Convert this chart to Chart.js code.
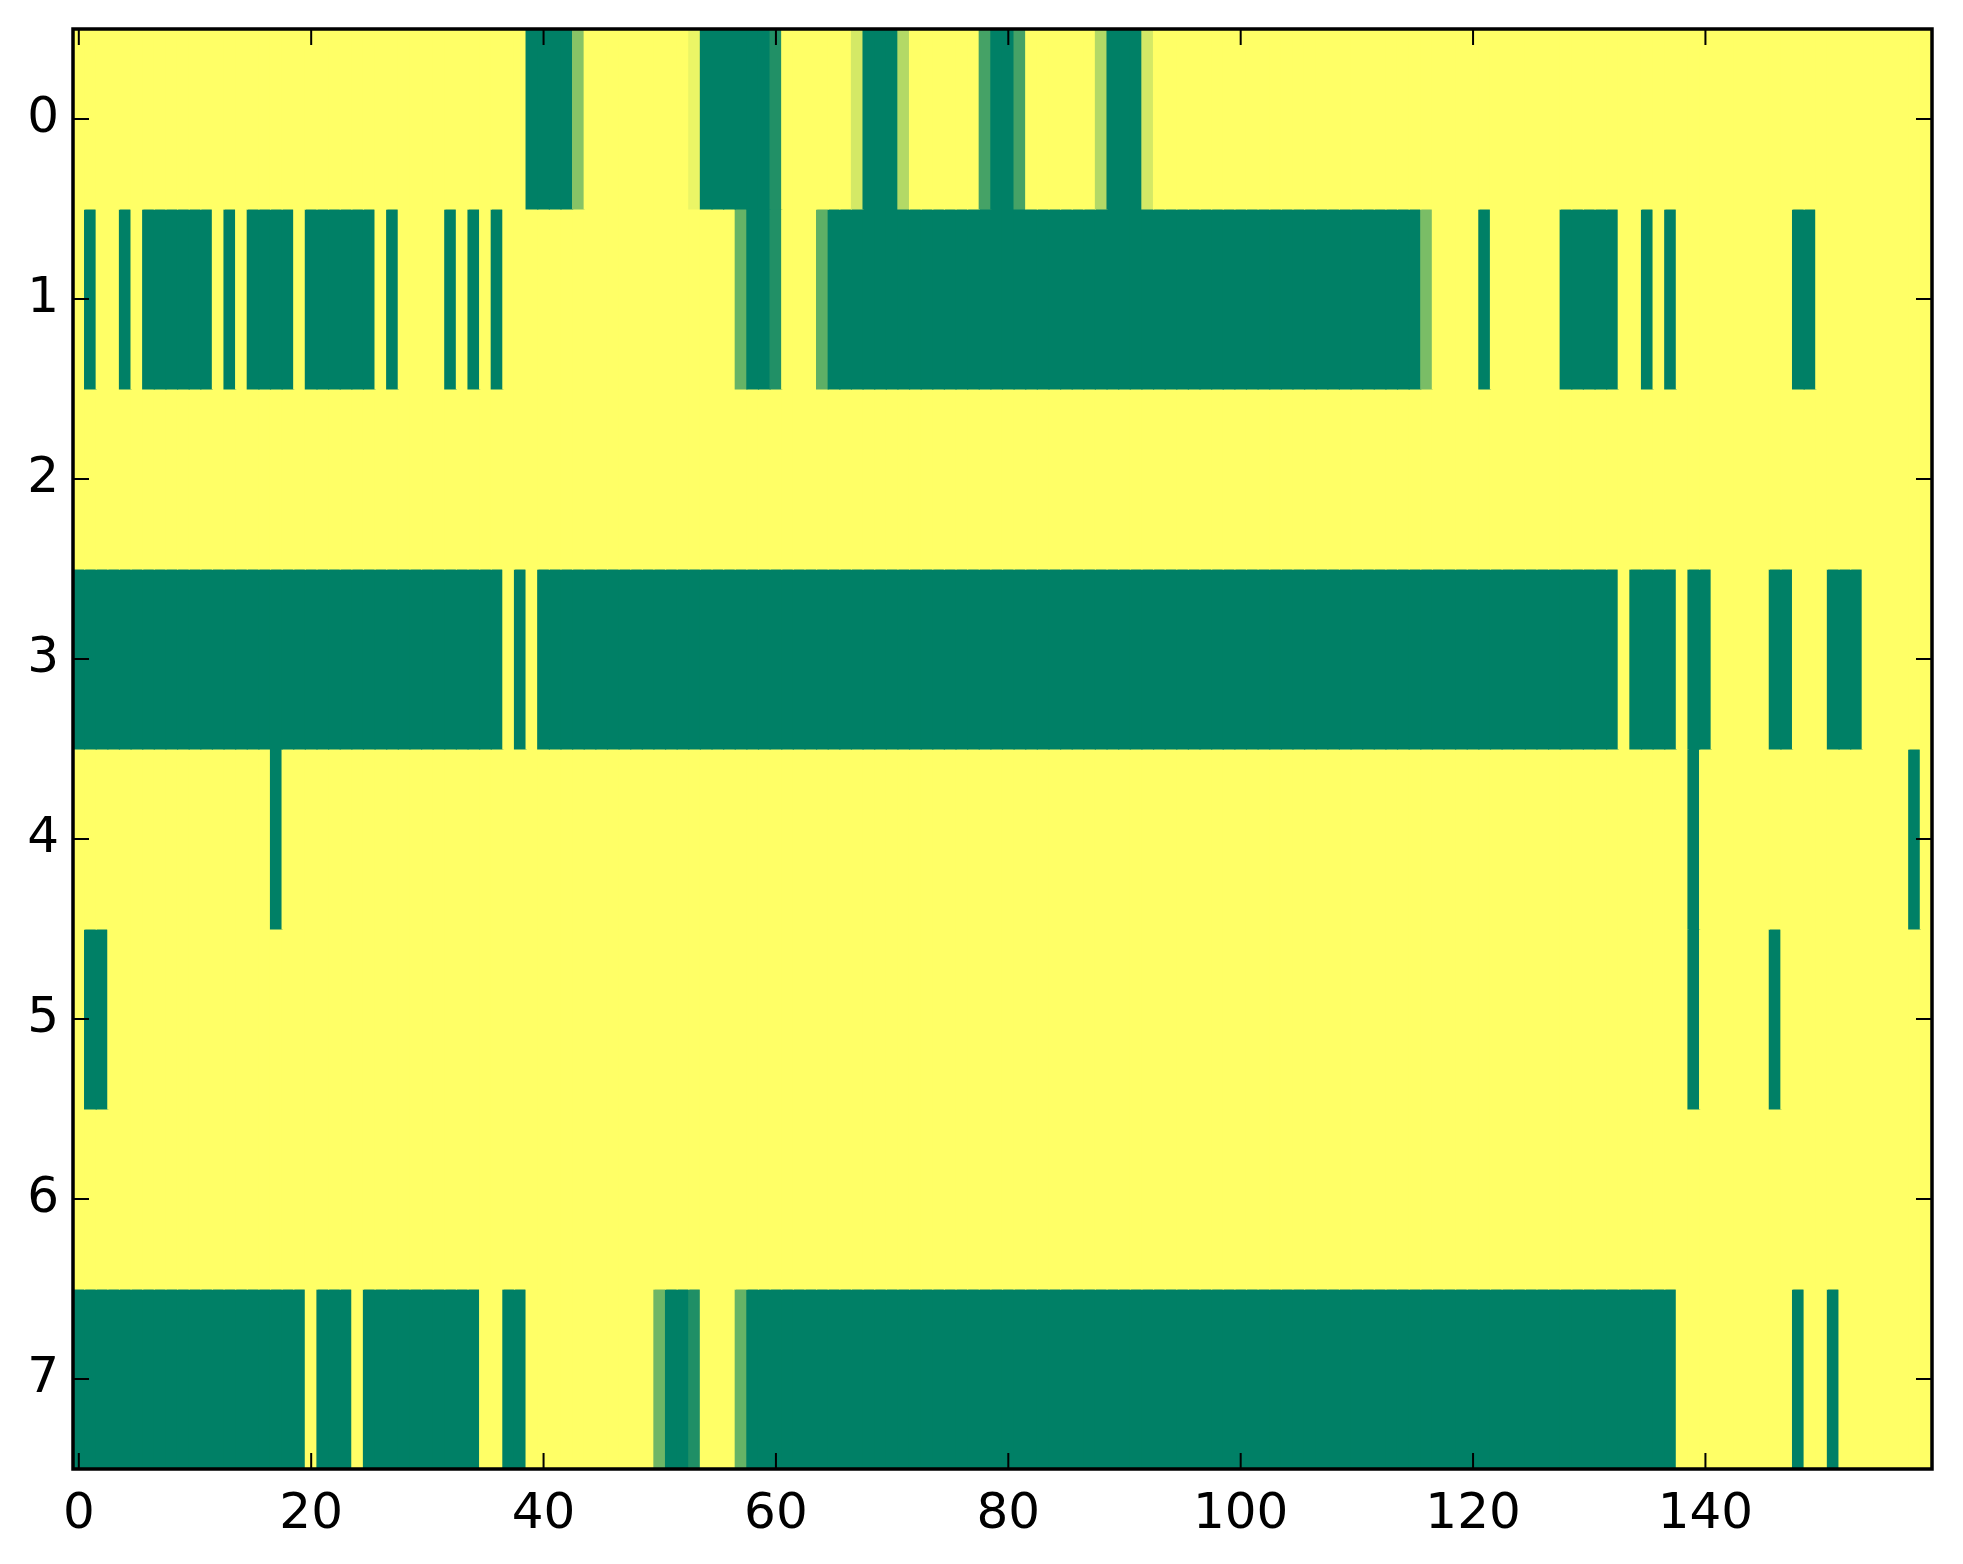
<!DOCTYPE html>
<html>
<head>
<meta charset="utf-8">
<script src="https://cdn.jsdelivr.net/npm/chart.js@4.4.1/dist/chart.umd.min.js"></script>
<style>
  html, body { margin: 0; padding: 0; background: #fff; }
  #wrap { width: 1963px; height: 1564px; position: relative; }
</style>
</head>
<body>
<div id="wrap"><canvas id="chart"></canvas></div>
<script>
// cell values, one array per row (0 = dark green, 1 = yellow, summer colormap)
const row0 = [
  1,1,1,1,1,1,1,1,1,1,1,1,1,1,1,1,1,1,1,1,
  1,1,1,1,1,1,1,1,1,1,1,1,1,1,1,1,1,1,1,0,
  0,0,0,0.53,1,1,1,1,1,1,1,1,1,0.92,0,0,0,0,0,0,
  0.13,1,1,1,1,1,1,0.83,0,0,0,0.7,1,1,1,1,1,1,0.27,0,
  0,0.27,1,1,1,1,1,1,0.7,0,0,0,0.83,1,1,1,1,1,1,1,
  1,1,1,1,1,1,1,1,1,1,1,1,1,1,1,1,1,1,1,1,
  1,1,1,1,1,1,1,1,1,1,1,1,1,1,1,1,1,1,1,1,
  1,1,1,1,1,1,1,1,1,1,1,1,1,1,1,1,1,1,1,1
];
const row1 = [
  1,0,1,1,0,1,0,0,0,0,0,0,1,0,1,0,0,0,0,1,
  0,0,0,0,0,0,1,0,1,1,1,1,0,1,0,1,0,1,1,1,
  1,1,1,1,1,1,1,1,1,1,1,1,1,1,1,1,1,0.4,0,0,
  0.13,1,1,1,0.37,0,0,0,0,0,0,0,0,0,0,0,0,0,0,0,
  0,0,0,0,0,0,0,0,0,0,0,0,0,0,0,0,0,0,0,0,
  0,0,0,0,0,0,0,0,0,0,0,0,0,0,0,0,0.48,1,1,1,
  1,0,1,1,1,1,1,1,0,0,0,0,0,1,1,0,1,0,1,1,
  1,1,1,1,1,1,1,1,0,0,1,1,1,1,1,1,1,1,1,1
];
const row2 = [
  1,1,1,1,1,1,1,1,1,1,1,1,1,1,1,1,1,1,1,1,
  1,1,1,1,1,1,1,1,1,1,1,1,1,1,1,1,1,1,1,1,
  1,1,1,1,1,1,1,1,1,1,1,1,1,1,1,1,1,1,1,1,
  1,1,1,1,1,1,1,1,1,1,1,1,1,1,1,1,1,1,1,1,
  1,1,1,1,1,1,1,1,1,1,1,1,1,1,1,1,1,1,1,1,
  1,1,1,1,1,1,1,1,1,1,1,1,1,1,1,1,1,1,1,1,
  1,1,1,1,1,1,1,1,1,1,1,1,1,1,1,1,1,1,1,1,
  1,1,1,1,1,1,1,1,1,1,1,1,1,1,1,1,1,1,1,1
];
const row3 = [
  0,0,0,0,0,0,0,0,0,0,0,0,0,0,0,0,0,0,0,0,
  0,0,0,0,0,0,0,0,0,0,0,0,0,0,0,0,0,1,0,1,
  0,0,0,0,0,0,0,0,0,0,0,0,0,0,0,0,0,0,0,0,
  0,0,0,0,0,0,0,0,0,0,0,0,0,0,0,0,0,0,0,0,
  0,0,0,0,0,0,0,0,0,0,0,0,0,0,0,0,0,0,0,0,
  0,0,0,0,0,0,0,0,0,0,0,0,0,0,0,0,0,0,0,0,
  0,0,0,0,0,0,0,0,0,0,0,0,0,1,0,0,0,0,1,0,
  0,1,1,1,1,1,0,0,1,1,1,0,0,0,1,1,1,1,1,1
];
const row4 = [
  1,1,1,1,1,1,1,1,1,1,1,1,1,1,1,1,1,0,1,1,
  1,1,1,1,1,1,1,1,1,1,1,1,1,1,1,1,1,1,1,1,
  1,1,1,1,1,1,1,1,1,1,1,1,1,1,1,1,1,1,1,1,
  1,1,1,1,1,1,1,1,1,1,1,1,1,1,1,1,1,1,1,1,
  1,1,1,1,1,1,1,1,1,1,1,1,1,1,1,1,1,1,1,1,
  1,1,1,1,1,1,1,1,1,1,1,1,1,1,1,1,1,1,1,1,
  1,1,1,1,1,1,1,1,1,1,1,1,1,1,1,1,1,1,1,0,
  1,1,1,1,1,1,1,1,1,1,1,1,1,1,1,1,1,1,0,1
];
const row5 = [
  1,0,0,1,1,1,1,1,1,1,1,1,1,1,1,1,1,1,1,1,
  1,1,1,1,1,1,1,1,1,1,1,1,1,1,1,1,1,1,1,1,
  1,1,1,1,1,1,1,1,1,1,1,1,1,1,1,1,1,1,1,1,
  1,1,1,1,1,1,1,1,1,1,1,1,1,1,1,1,1,1,1,1,
  1,1,1,1,1,1,1,1,1,1,1,1,1,1,1,1,1,1,1,1,
  1,1,1,1,1,1,1,1,1,1,1,1,1,1,1,1,1,1,1,1,
  1,1,1,1,1,1,1,1,1,1,1,1,1,1,1,1,1,1,1,0,
  1,1,1,1,1,1,0,1,1,1,1,1,1,1,1,1,1,1,1,1
];
const row6 = [
  1,1,1,1,1,1,1,1,1,1,1,1,1,1,1,1,1,1,1,1,
  1,1,1,1,1,1,1,1,1,1,1,1,1,1,1,1,1,1,1,1,
  1,1,1,1,1,1,1,1,1,1,1,1,1,1,1,1,1,1,1,1,
  1,1,1,1,1,1,1,1,1,1,1,1,1,1,1,1,1,1,1,1,
  1,1,1,1,1,1,1,1,1,1,1,1,1,1,1,1,1,1,1,1,
  1,1,1,1,1,1,1,1,1,1,1,1,1,1,1,1,1,1,1,1,
  1,1,1,1,1,1,1,1,1,1,1,1,1,1,1,1,1,1,1,1,
  1,1,1,1,1,1,1,1,1,1,1,1,1,1,1,1,1,1,1,1
];
const row7 = [
  0,0,0,0,0,0,0,0,0,0,0,0,0,0,0,0,0,0,0,0,
  1,0,0,0,1,0,0,0,0,0,0,0,0,0,0,1,1,0,0,1,
  1,1,1,1,1,1,1,1,1,1,0.43,0,0,0.12,1,1,1,0.4,0,0,
  0,0,0,0,0,0,0,0,0,0,0,0,0,0,0,0,0,0,0,0,
  0,0,0,0,0,0,0,0,0,0,0,0,0,0,0,0,0,0,0,0,
  0,0,0,0,0,0,0,0,0,0,0,0,0,0,0,0,0,0,0,0,
  0,0,0,0,0,0,0,0,0,0,0,0,0,0,0,0,0,0,1,1,
  1,1,1,1,1,1,1,1,0,1,1,0,1,1,1,1,1,1,1,1
];

const rows = [row0, row1, row2, row3, row4, row5, row6, row7];
const columns = row0.map((v, i) => String(i));
const xTicks = [0, 20, 40, 60, 80, 100, 120, 140];
const yTicks = [0, 1, 2, 3, 4, 5, 6, 7];

// matplotlib "summer" colormap
function summer(v) {
    const r = Math.round(255 * v);
    const g = Math.round(255 * (0.5 + 0.5 * v));
    const b = Math.round(255 * 0.4);
    return 'rgb(' + r + ',' + g + ',' + b + ')';
}

// frame and inward ticks on all four sides, like matplotlib classic
const frameTicks = {
    id: 'frameTicks',
    afterDraw(chart) {
        const {ctx, chartArea: a, scales} = chart;
        const len = 16;
        ctx.save();
        ctx.strokeStyle = '#000';
        ctx.lineWidth = 2;
        ctx.beginPath();
        xTicks.forEach(v => {
            const px = scales.x.getPixelForValue(v);
            ctx.moveTo(px, a.bottom); ctx.lineTo(px, a.bottom - len);
            ctx.moveTo(px, a.top); ctx.lineTo(px, a.top + len);
        });
        yTicks.forEach(v => {
            const py = scales.y.getPixelForValue(v);
            ctx.moveTo(a.left, py); ctx.lineTo(a.left + len, py);
            ctx.moveTo(a.right, py); ctx.lineTo(a.right - len, py);
        });
        ctx.stroke();
        ctx.lineWidth = 3.5;
        ctx.strokeRect(a.left, a.top, a.right - a.left, a.bottom - a.top);
        ctx.restore();
    }
};

const datasets = rows.map((vals, r) => ({
    label: 'row ' + r,
    data: vals.map(() => [r - 0.5, r + 0.5]),
    backgroundColor: vals.map(summer),
    borderWidth: 0,
    inflateAmount: 0.6,
    grouped: false,
    barPercentage: 1,
    categoryPercentage: 1,
}));

const font = { family: "'DejaVu Sans', sans-serif", size: 50 };

let ctx = document.getElementById('chart').getContext('2d');

let chart = new Chart(ctx, {
    type: 'bar',
    data: { labels: columns, datasets: datasets },
    options: {
        responsive: true,
        maintainAspectRatio: false,
        animation: false,
        layout: { padding: { top: 29, right: 31, left: 0, bottom: 0 } },
        plugins: { legend: { display: false }, tooltip: { enabled: false } },
        scales: {
            x: {
                type: 'category',
                offset: true,
                grid: { display: false, drawTicks: false },
                border: { display: false },
                ticks: { autoSkip: false, maxRotation: 0, padding: 16, color: '#000', font: font },
                afterBuildTicks: s => { s.ticks = s.ticks.filter(t => xTicks.includes(t.value)); },
                afterFit: s => { s.height = 95; s.paddingLeft = 0; s.paddingRight = 0; },
            },
            y: {
                type: 'linear',
                reverse: true,
                min: -0.5,
                max: 7.5,
                grid: { display: false, drawTicks: false },
                border: { display: false },
                ticks: { padding: 14, color: '#000', font: font },
                afterBuildTicks: s => { s.ticks = yTicks.map(v => ({ value: v })); },
                afterFit: s => { s.width = 73; s.paddingTop = 0; s.paddingBottom = 0; },
            },
        },
    },
    plugins: [frameTicks],
});
</script>
</body>
</html>
